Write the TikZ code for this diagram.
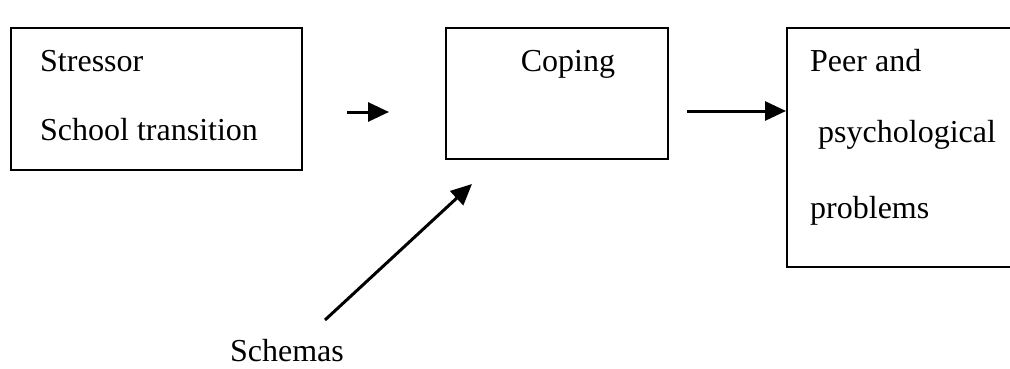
\documentclass[tikz,border=0pt]{standalone}
\usepackage{fontspec}
\setmainfont{Liberation Serif}
\usetikzlibrary{arrows.meta}
\begin{document}
\begin{tikzpicture}[x=1pt,y=-1pt,
  box/.style={draw, line width=2.4pt, rectangle, inner sep=0pt, anchor=north west},
  lbl/.style={font=\fontsize{32}{38}\selectfont, inner sep=0pt, anchor=base west},
  arr/.style={line width=3pt, -{Triangle[length=21pt,width=19pt]}}]
\useasboundingbox (0,0) rectangle (1010,369);
% boxes
\node[box, minimum width=291pt, minimum height=142pt] (stressor) at (10,27) {};
\node[box, minimum width=222pt, minimum height=131pt] (coping) at (445,27) {};
\node[box, minimum width=240pt, minimum height=239pt] (outcome) at (786,27) {};
% texts
\node[lbl] (t1) at (40,72) {Stressor};
\node[lbl] (t2) at (40,140) {School transition};
\node[lbl, anchor=base] (t3) at (568,72) {Coping};
\node[lbl] (t4) at (810,72) {Peer and};
\node[lbl] (t5) at (810,142) {\ psychological};
\node[lbl] (t6) at (810,218) {problems};
\node[lbl, anchor=base] (schemas) at (287,361) {Schemas};
% arrows
\coordinate (a1s) at (347,112);
\coordinate (a1e) at (389,112);
\draw[arr] (a1s) -- (a1e);
\coordinate (a2s) at (687,111);
\draw[arr] (a2s) -- (outcome.west |- a2s);
\coordinate (a3s) at (325,320);
\coordinate (a3e) at (472,184);
\draw[arr] (a3s) -- (a3e);
\end{tikzpicture}
\end{document}
